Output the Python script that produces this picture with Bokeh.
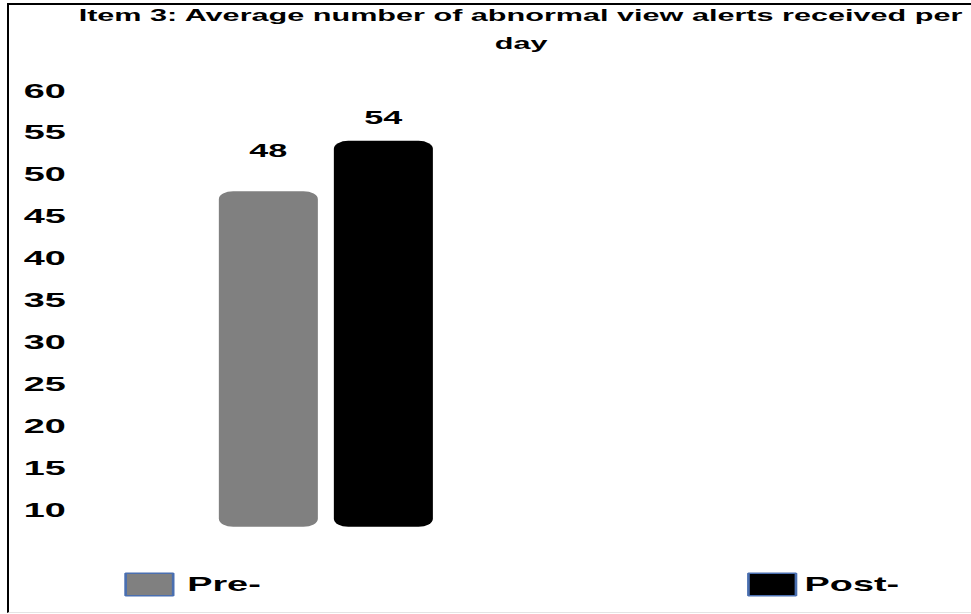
from bokeh.plotting import figure
from bokeh.models import (ColumnDataSource, FixedTicker, Range1d, Legend, LegendItem,
                          InlineStyleSheet, Title)
from bokeh.core.properties import value
from bokeh.embed import file_html
from bokeh.resources import INLINE

# ---- data ----
categories = ["Pre-", "Post-"]
values = [48, 54]
value_labels = ["48", "54"]
bar_colors = ["#808080", "#000000"]
y_ticks = [10, 15, 20, 25, 30, 35, 40, 45, 50, 55, 60]
bar_base = 8
title_lines = ["Item 3: Average number of abnormal view alerts received per", "day"]

# ---- styling (the reference is horizontally stretched; reproduce via CSS scaleX) ----
SX = 1.8
FONT = "Liberation Sans"
W, H = 539, 614
label_dy = [-41, -23]

src = ColumnDataSource(dict(
    x=list(range(len(categories))),
    top=values,
    bottom=[bar_base] * len(values),
    color=bar_colors,
    label=value_labels,
    dy=label_dy,
))

p = figure(width=W, height=H, output_backend="svg", toolbar_location=None, title=None,
           x_range=Range1d(-1.715, 6.11), y_range=Range1d(-2.455, 63.576),
           x_axis_location=None, y_axis_location="left",
           min_border_left=39, min_border_right=0, min_border_top=60, min_border_bottom=0,
           background_fill_color="white", border_fill_color="white",
           outline_line_color=None)

p.xgrid.visible = False
p.ygrid.visible = False

p.vbar(x="x", top="top", bottom="bottom", width=0.861, source=src,
       fill_color="color", line_color=None, border_radius=8)

p.text(x="x", y="top", text="label", y_offset="dy", source=src,
       text_align="center", text_baseline="middle",
       text_font=value(FONT), text_font_style="bold", text_font_size="19px",
       text_color="black")

# legend-only renderer: zero-size marks at the bar bases, used for the legend swatches
leg_r = p.vbar(x="x", top="bottom", bottom="bottom", width=0, source=src,
               fill_color="color", line_color="#4a6fb0", line_width=1.5)

leg_pos = [(27, 16), (373, 16)]
leg_standoff = [5, 2]
for i, (cat, pos, so) in enumerate(zip(categories, leg_pos, leg_standoff)):
    leg = Legend(items=[LegendItem(label=cat, renderers=[leg_r], index=i)], location=pos,
                 orientation="horizontal", padding=0, margin=0, spacing=0,
                 border_line_color=None, background_fill_alpha=0,
                 label_text_font=FONT, label_text_font_style="bold",
                 label_text_font_size="21px", label_text_color="black",
                 glyph_width=33, glyph_height=28, label_height=28,
                 label_standoff=so)
    p.add_layout(leg, "center")

ax = p.yaxis[0]
ax.ticker = FixedTicker(ticks=y_ticks)
ax.axis_line_color = None
ax.major_tick_line_color = None
ax.minor_tick_line_color = None
ax.major_tick_out = 0
ax.major_tick_in = 0
ax.minor_tick_out = 0
ax.major_label_standoff = 3
ax.major_label_text_font = FONT
ax.major_label_text_font_style = "bold"
ax.major_label_text_font_size = "21px"
ax.major_label_text_color = "black"

# title: second line closest to the frame, first line above it
for txt, standoff in [(title_lines[1], 15), (title_lines[0], 0)]:
    t = Title(text=txt, align="center", text_font=FONT, text_font_style="bold",
              text_font_size="17px", text_color="black", standoff=standoff)
    p.add_layout(t, "above")

css = """
:host {
  position: relative;
  overflow: visible;
}
.bk-Canvas {
  transform: scaleX(%s);
  transform-origin: 0 0;
}
:host::after {
  content: "";
  position: absolute;
  left: 7px; top: 3px; right: -432px; bottom: 1px;
  border-left: 2px solid #000;
  border-top: 2px solid #000;
  border-bottom: 1px solid #e4e4e4;
  pointer-events: none;
}
""" % SX
p.stylesheets = [InlineStyleSheet(css=css)]

open("out.html", "w").write(file_html(p, INLINE))
